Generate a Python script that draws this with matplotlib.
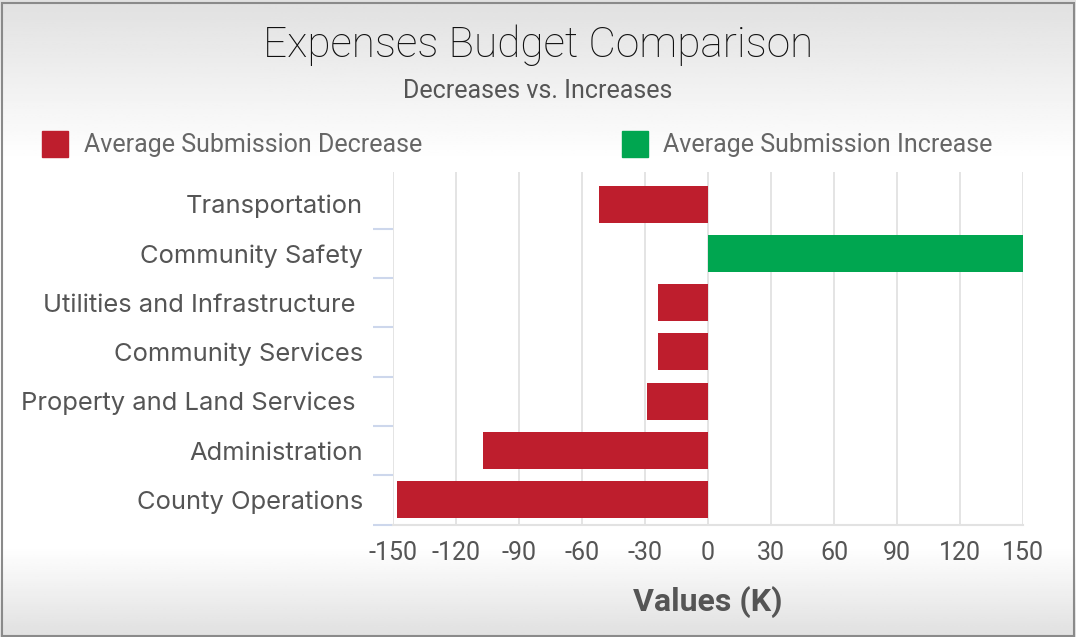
import numpy as np
import matplotlib.pyplot as plt
from matplotlib.patches import Rectangle
from matplotlib.ticker import FixedLocator

categories = ["Transportation", "Community Safety", "Utilities and Infrastructure ",
              "Community Services", "Property and Land Services ", "Administration",
              "County Operations"]
values = [-52, 150, -24, -24, -29, -107, -148]
xticks = [-150, -120, -90, -60, -30, 0, 30, 60, 90, 120, 150]

red = "#be1e2d"
green = "#00a650"

plt.rcParams['font.family'] = ['Roboto', 'DejaVu Sans']

fig = plt.figure(figsize=(10.76, 6.37), dpi=100)

# background gradient
bg = fig.add_axes([0, 0, 1, 1], zorder=-10)
yy = np.linspace(0, 1, 300)
shade = np.ones_like(yy)
top = yy < 0.25
shade[top] = 0.88 + 0.12 * (yy[top] / 0.25)
bot = yy > 0.86
shade[bot] = 1 - 0.12 * ((yy[bot] - 0.86) / 0.14)
bg.imshow(np.repeat(shade[:, None], 2, axis=1), cmap='gray', vmin=0, vmax=1,
          aspect='auto', extent=[0, 1, 1, 0])
bg.set_xlim(0, 1)
bg.set_ylim(1, 0)
bg.axis('off')
fig.patches.append(Rectangle((0.002, 0.002), 0.996, 0.994, transform=fig.transFigure,
                             fill=False, edgecolor='#8a8a8a', linewidth=1.5))

ax = fig.add_axes([393 / 1076, 1 - 524.5 / 637, 630 / 1076, 352.5 / 637])
ax.set_facecolor('none')

n = len(categories)
ypos = np.arange(n)[::-1]
colors = [green if v > 0 else red for v in values]
ax.barh(ypos, values, height=0.75, color=colors, zorder=3)

ax.set_xlim(-150, 150)
ax.set_ylim(-0.5, n - 0.35)
ax.set_xticks(xticks)
ax.set_xticklabels([str(t) for t in xticks], fontsize=18, color='#555555')
ax.tick_params(axis='x', length=0, pad=12)
ax.grid(axis='x', color='#e2e2e2', linewidth=1.3, zorder=0)

ax.set_yticks(ypos)
ax.set_yticklabels(categories, fontsize=18.4, color='#555555', family=['Inter', 'DejaVu Sans'])
ax.tick_params(axis='y', which='major', length=0, pad=21.6)
ax.yaxis.set_minor_locator(FixedLocator(np.arange(n) - 0.5))
ax.tick_params(axis='y', which='minor', length=14.4, width=1.5, color='#cdd7ec')

for s in ['top', 'right', 'left']:
    ax.spines[s].set_visible(False)
ax.spines['bottom'].set_color('#e2e2e2')
ax.spines['bottom'].set_linewidth(1.5)

ax.set_xlabel("Values (K)", fontsize=23, fontweight='bold', color='#555555', labelpad=15)

fig.text(0.5, 1 - 45 / 637, "Expenses Budget Comparison", ha='center', va='center',
         fontsize=30.5, fontweight='light', color='#111111')
fig.text(0.5, 1 - 91 / 637, "Decreases vs. Increases", ha='center', va='center',
         fontsize=18, color='#555555')

fig.patches.append(Rectangle((42 / 1076, 1 - 157 / 637), 26 / 1076, 26 / 637,
                             transform=fig.transFigure, color=red))
fig.text(84 / 1076, 1 - 145 / 637, "Average Submission Decrease", ha='left', va='center',
         fontsize=18, color='#666666')
fig.patches.append(Rectangle((622 / 1076, 1 - 157 / 637), 26 / 1076, 26 / 637,
                             transform=fig.transFigure, color=green))
fig.text(663 / 1076, 1 - 145 / 637, "Average Submission Increase", ha='left', va='center',
         fontsize=18, color='#666666')

fig.savefig("out.png", dpi=100)
